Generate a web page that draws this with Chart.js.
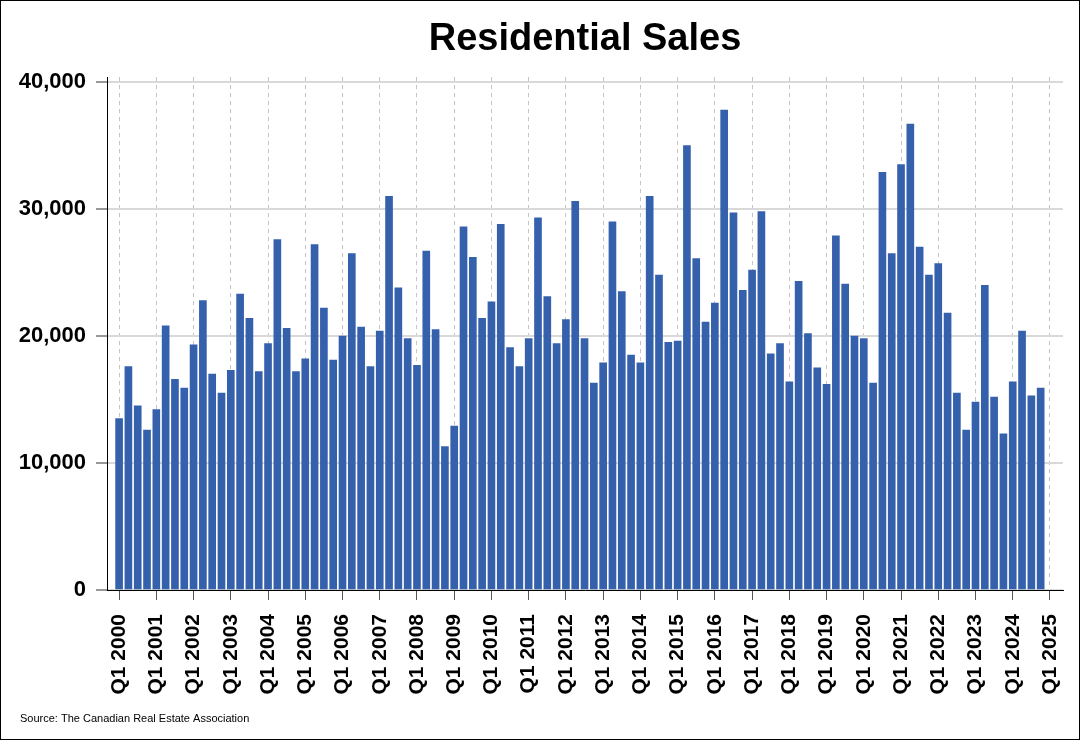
<!DOCTYPE html>
<html>
<head>
<meta charset="utf-8">
<title>Residential Sales</title>
<script src="https://cdn.jsdelivr.net/npm/chart.js@4.4.1/dist/chart.umd.min.js"></script>
<style>
  html, body { margin: 0; padding: 0; background: #fff; }
  #wrap { width: 1080px; height: 740px; }
</style>
</head>
<body>
<div id="wrap"><canvas id="salesChart" width="1080" height="740"></canvas></div>
<script>
// Data: quarterly residential sales, Q1 2000 .. Q4 2024
const years = [2000, 2001, 2002, 2003, 2004, 2005, 2006, 2007, 2008, 2009, 2010, 2011, 2012,
    2013, 2014, 2015, 2016, 2017, 2018, 2019, 2020, 2021, 2022, 2023, 2024];
const quarters = years.flatMap(y => ['Q1 ' + y, 'Q2 ' + y, 'Q3 ' + y, 'Q4 ' + y]);
const sales = [
    13500, 17600, 14500, 12600,
    14200, 20800, 16600, 15900,
    19300, 22800, 17000, 15500,
    17300, 23300, 21400, 17200,
    19400, 27600, 20600, 17200,
    18200, 27200, 22200, 18100,
    20000, 26500, 20700, 17600,
    20400, 31000, 23800, 19800,
    17700, 26700, 20500, 11300,
    12900, 28600, 26200, 21400,
    22700, 28800, 19100, 17600,
    19800, 29300, 23100, 19400,
    21300, 30600, 19800, 16300,
    17900, 29000, 23500, 18500,
    17900, 31000, 24800, 19500,
    19600, 35000, 26100, 21100,
    22600, 37800, 29700, 23600,
    25200, 29800, 18600, 19400,
    16400, 24300, 20200, 17500,
    16200, 27900, 24100, 20000,
    19800, 16300, 32900, 26500,
    33500, 36700, 27000, 24800,
    25700, 21800, 15500, 12600,
    14800, 24000, 15200, 12300,
    16400, 20400, 15300, 15900
];
const tickLabels = ['Q1 2000', 'Q1 2001', 'Q1 2002', 'Q1 2003', 'Q1 2004', 'Q1 2005', 'Q1 2006',
    'Q1 2007', 'Q1 2008', 'Q1 2009', 'Q1 2010', 'Q1 2011', 'Q1 2012', 'Q1 2013', 'Q1 2014',
    'Q1 2015', 'Q1 2016', 'Q1 2017', 'Q1 2018', 'Q1 2019', 'Q1 2020', 'Q1 2021', 'Q1 2022',
    'Q1 2023', 'Q1 2024', 'Q1 2025'];
const yTicks = [0, 10000, 20000, 30000, 40000];

const FONT = "'Liberation Sans', Arial, Helvetica, sans-serif";

// title, source note and outer frame
const decorations = {
    id: 'decorations',
    afterDraw(chart) {
        const { ctx, chartArea } = chart;
        ctx.save();
        ctx.fillStyle = '#000';
        ctx.font = 'bold 38px ' + FONT;
        ctx.textAlign = 'center';
        ctx.textBaseline = 'alphabetic';
        ctx.fillText('Residential Sales', (chartArea.left + chartArea.right) / 2, 50);

        ctx.font = '11px ' + FONT;
        ctx.textAlign = 'left';
        ctx.fillText('Source: The Canadian Real Estate Association', 20, 722);

        ctx.strokeStyle = '#000';
        ctx.lineWidth = 1;
        ctx.strokeRect(0.5, 0.5, chart.width - 1, chart.height - 1);
        ctx.restore();
    }
};

new Chart(document.getElementById('salesChart'), {
    type: 'bar',
    data: {
        datasets: [{
            label: 'Residential Sales',
            data: sales.map((v, i) => ({ x: i, y: v })),
            backgroundColor: '#3560AB',
            borderWidth: 0,
            barThickness: 7
        }]
    },
    options: {
        responsive: false,
        animation: false,
        layout: { padding: { top: 77, right: 17, left: 0, bottom: 0 } },
        plugins: {
            legend: { display: false },
            tooltip: { enabled: false }
        },
        scales: {
            x: {
                type: 'linear',
                min: -1.3,
                max: 101.4,
                offset: false,
                afterFit: s => { s.height = 150; s.paddingLeft = 0; s.paddingRight = 0; },
                border: { display: true, color: '#000', width: 1, dash: [4, 4] },
                grid: { offset: false, color: '#c4c4c4', lineWidth: 1, tickColor: '#555', tickLength: 10, tickWidth: 1 },
                ticks: {
                    stepSize: 4,
                    includeBounds: false,
                    autoSkip: false,
                    minRotation: 90,
                    maxRotation: 90,
                    padding: 14,
                    color: '#000',
                    font: { family: FONT, size: 21, weight: 'bold' },
                    callback: v => tickLabels[v / 4]
                }
            },
            y: {
                min: 0,
                max: 40400,
                afterFit: s => { s.width = 107; },
                afterBuildTicks: s => { s.ticks = yTicks.map(v => ({ value: v })); },
                border: { display: true, color: '#000', width: 1 },
                grid: { color: '#d9d9d9', lineWidth: 2, tickColor: '#333', tickLength: 11, tickWidth: 1 },
                ticks: {
                    padding: 10,
                    color: '#000',
                    font: { family: FONT, size: 22, weight: 'bold' },
                    callback: v => v.toLocaleString('en-US')
                }
            }
        }
    },
    plugins: [decorations]
});
</script>
</body>
</html>
